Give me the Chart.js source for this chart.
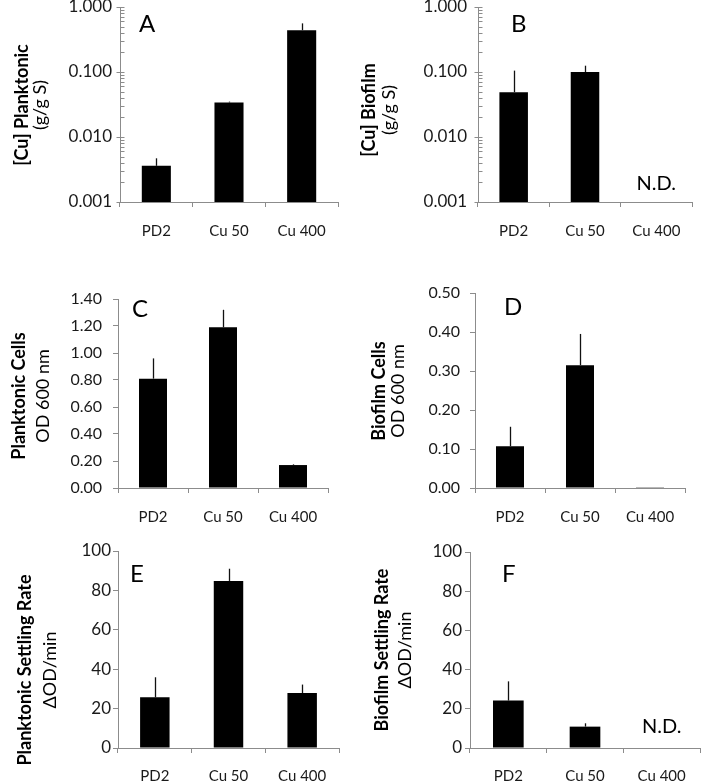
<!DOCTYPE html>
<html>
<head>
<meta charset="utf-8">
<title>Cu panels</title>
<script src="https://cdn.jsdelivr.net/npm/chart.js@4/dist/chart.umd.min.js"></script>
<style>
    body { margin: 0; background: #fff; }
    #wrap { position: relative; width: 704px; height: 784px; overflow: hidden; }
    #wrap canvas { position: absolute; }
</style>
</head>
<body>
<div id="wrap">
    <canvas id="chartA" width="352" height="280" style="left:0;top:0"></canvas>
    <canvas id="chartB" width="352" height="280" style="left:352px;top:0"></canvas>
    <canvas id="chartC" width="352" height="280" style="left:0;top:260px"></canvas>
    <canvas id="chartD" width="352" height="280" style="left:352px;top:260px"></canvas>
    <canvas id="chartE" width="352" height="264" style="left:0;top:520px"></canvas>
    <canvas id="chartF" width="352" height="264" style="left:352px;top:520px"></canvas>
</div>
<script>
// 데이터
const categories = ['PD2', 'Cu 50', 'Cu 400'];

// A, B: [Cu] (g/g S), log axis
const cuPlanktonic = [0.0036, 0.034, 0.44];
const cuPlanktonicErr = [0.0011, 0.001, 0.12];
const cuBiofilm = [0.049, 0.100, null];
const cuBiofilmErr = [0.056, 0.025, null];

// C, D: OD 600 nm
const planktonicCells = [0.81, 1.19, 0.17];
const planktonicCellsErr = [0.15, 0.13, 0.005];
const biofilmCells = [0.107, 0.315, 0.002];
const biofilmCellsErr = [0.05, 0.08, 0];

// E, F: settling rate (ΔOD/min)
const planktonicSettling = [25.7, 84.8, 27.9];
const planktonicSettlingErr = [10.2, 6.2, 4.3];
const biofilmSettling = [24.2, 10.9, null];
const biofilmSettlingErr = [9.8, 1.7, null];

// 눈금
const logTicks = [0.001, 0.01, 0.1, 1];
const logTickLabels = ['0.001', '0.010', '0.100', '1.000'];
const odTicksC = [0, 0.2, 0.4, 0.6, 0.8, 1.0, 1.2, 1.4];
const odTickLabelsC = ['0.00', '0.20', '0.40', '0.60', '0.80', '1.00', '1.20', '1.40'];
const odTicksD = [0, 0.1, 0.2, 0.3, 0.4, 0.5];
const odTickLabelsD = ['0.00', '0.10', '0.20', '0.30', '0.40', '0.50'];
const rateTicks = [0, 20, 40, 60, 80, 100];
const rateTickLabels = ['0', '20', '40', '60', '80', '100'];

const axisGray = '#8c8c8c';
const textColor = '#1a1a1a';
const fontFamily = 'Lato, "Open Sans", sans-serif';

// minor ticks for the log axis (2..9 in each decade)
const logMinorTicks = [];
logTicks.forEach((d, i) => {
    if (i === logTicks.length - 1) { logMinorTicks.push(d); return; }
    for (let m = 1; m < 10; m++) logMinorTicks.push(Number((d * m).toPrecision(6)));
});

const panels = [
    { id: 'chartA', letter: 'A', values: cuPlanktonic, err: cuPlanktonicErr, log: true,
      ticks: logTicks, labels: logTickLabels, title: '[Cu] Planktonic', sub: '(g/g S)', tickSize: 17,
      area: [120, 338, 7, 202], cellH: 260, tickPad: 8, xPad: 15, titleX: [22, 40], titleY: 105, letterPos: [139, 32] },
    { id: 'chartB', letter: 'B', values: cuBiofilm, err: cuBiofilmErr, log: true,
      ticks: logTicks, labels: logTickLabels, title: '[Cu] Biofilm', sub: '(g/g S)', tickSize: 17,
      area: [126, 340, 7, 202], cellH: 260, tickPad: 11, xPad: 15, titleX: [17, 37], titleY: 110, letterPos: [159, 32], ndY: 190 },
    { id: 'chartC', letter: 'C', values: planktonicCells, err: planktonicCellsErr, log: false,
      ticks: odTicksC, labels: odTickLabelsC, title: 'Planktonic Cells', sub: 'OD 600 nm', tickSize: 16,
      area: [118, 328, 39, 228], cellH: 260, tickPad: 11, xPad: 15, titleX: [19, 43], titleY: 136, letterPos: [132, 57] },
    { id: 'chartD', letter: 'D', values: biofilmCells, err: biofilmCellsErr, log: false,
      ticks: odTicksD, labels: odTickLabelsD, title: 'Biofilm Cells', sub: 'OD 600 nm', tickSize: 16,
      area: [123, 333, 33, 228], cellH: 260, tickPad: 10, xPad: 15, titleX: [27, 46], titleY: 131, letterPos: [152, 55] },
    { id: 'chartE', letter: 'E', values: planktonicSettling, err: planktonicSettlingErr, log: false,
      ticks: rateTicks, labels: rateTickLabels, title: 'Planktonic Settling Rate', sub: 'ΔOD/min', tickSize: 17,
      area: [118, 339, 31, 228], cellH: 264, tickPad: 2, xPad: 14, titleX: [25, 50], titleY: 150, letterPos: [130, 62] },
    { id: 'chartF', letter: 'F', values: biofilmSettling, err: biofilmSettlingErr, log: false,
      ticks: rateTicks, labels: rateTickLabels, title: 'Biofilm Settling Rate', sub: 'ΔOD/min', tickSize: 17,
      area: [118, 348, 32, 228], cellH: 264, tickPad: 3, xPad: 14, titleX: [30, 53], titleY: 130, letterPos: [150, 62], ndY: 213 }
];

// 오차 막대, 축 제목, 패널 문자
function makeExtras(p) {
    return {
        id: 'panelExtras',
        afterDraw(chart) {
            const ctx = chart.ctx;
            const ys = chart.scales.y;
            const xs = chart.scales.x;
            const meta = chart.getDatasetMeta(0);
            ctx.save();

            // error bars (upper only, no caps)
            ctx.strokeStyle = '#111';
            ctx.lineWidth = 1.3;
            meta.data.forEach((bar, i) => {
                const v = p.values[i], e = p.err[i];
                if (v == null || !e) return;
                const x = Math.round(bar.x) + 0.5;
                ctx.beginPath();
                ctx.moveTo(x, bar.y);
                ctx.lineTo(x, ys.getPixelForValue(v + e));
                ctx.stroke();
            });

            // log axis tick marks: major cross the axis, minor inside
            if (p.log) {
                ctx.strokeStyle = axisGray;
                ctx.lineWidth = 1;
                const x0 = Math.round(ys.right) + 0.5;
                ys.ticks.forEach(t => {
                    const major = p.ticks.some(v => Math.abs(v - t.value) < v * 1e-6);
                    const y = Math.round(ys.getPixelForValue(t.value)) + 0.5;
                    ctx.beginPath();
                    ctx.moveTo(x0 - (major ? 4 : 0), y);
                    ctx.lineTo(x0 + 4, y);
                    ctx.stroke();
                });
            }

            ctx.fillStyle = '#000';

            // panel letter
            ctx.font = '24px ' + fontFamily;
            ctx.textAlign = 'left';
            ctx.textBaseline = 'alphabetic';
            ctx.fillText(p.letter, p.letterPos[0], p.letterPos[1]);

            // N.D.
            if (p.ndY) {
                ctx.font = '20px ' + fontFamily;
                ctx.textAlign = 'center';
                ctx.fillText('N.D.', xs.getPixelForValue(2), p.ndY);
            }

            // y axis title, two lines
            ctx.textAlign = 'center';
            ctx.textBaseline = 'middle';
            [[p.title, 'bold 18px ', p.titleX[0]], [p.sub, '18px ', p.titleX[1]]].forEach(([txt, f, x]) => {
                ctx.save();
                ctx.translate(x, p.titleY);
                ctx.rotate(-Math.PI / 2);
                ctx.font = f + fontFamily;
                ctx.fillText(txt, 0, 0);
                ctx.restore();
            });

            ctx.restore();
        }
    };
}

function makeChart(p) {
    const canvas = document.getElementById(p.id);
    const W = canvas.width;
    const [left, right, top, bottom] = p.area;

    return new Chart(canvas, {
        type: 'bar',
        data: {
            labels: categories,
            datasets: [{
                data: p.values,
                backgroundColor: '#000',
                borderWidth: 0,
                barPercentage: 0.4,
                categoryPercentage: 1
            }]
        },
        options: {
            responsive: false,
            animation: false,
            events: [],
            layout: { padding: { left: 0, right: W - right, top: top, bottom: 0 } },
            plugins: {
                legend: { display: false },
                tooltip: { enabled: false }
            },
            scales: {
                x: {
                    grid: { display: true, drawOnChartArea: false, drawTicks: true, tickLength: 5, color: axisGray, offset: true },
                    border: { color: axisGray, width: 1 },
                    ticks: {
                        color: textColor,
                        font: { family: fontFamily, size: 15 },
                        padding: p.xPad,
                        maxRotation: 0,
                        autoSkip: false
                    },
                    afterFit(s) {
                        s.height = canvas.height - bottom;
                        s.paddingLeft = 0;
                        s.paddingRight = 0;
                    }
                },
                y: {
                    type: p.log ? 'logarithmic' : 'linear',
                    min: p.ticks[0],
                    max: p.ticks[p.ticks.length - 1],
                    grid: p.log
                        ? { display: false, drawTicks: false }
                        : { display: true, drawOnChartArea: false, drawTicks: true, tickLength: 5, color: axisGray },
                    border: { color: axisGray, width: 1 },
                    ticks: {
                        color: textColor,
                        font: { family: fontFamily, size: p.tickSize },
                        padding: p.tickPad,
                        autoSkip: false,
                        callback: function(value) {
                            const i = p.ticks.findIndex(t => Math.abs(t - value) <= Math.abs(t) * 1e-6 + 1e-12);
                            return i >= 0 ? p.labels[i] : '';
                        }
                    },
                    afterBuildTicks(s) {
                        s.ticks = (p.log ? logMinorTicks : p.ticks).map(v => ({ value: v }));
                    },
                    afterFit(s) {
                        s.width = left;
                        s.paddingTop = 0;
                        s.paddingBottom = 0;
                    }
                }
            }
        },
        plugins: [makeExtras(p)]
    });
}

document.addEventListener('DOMContentLoaded', function() {
    panels.forEach(makeChart);
});
</script>
</body>
</html>
